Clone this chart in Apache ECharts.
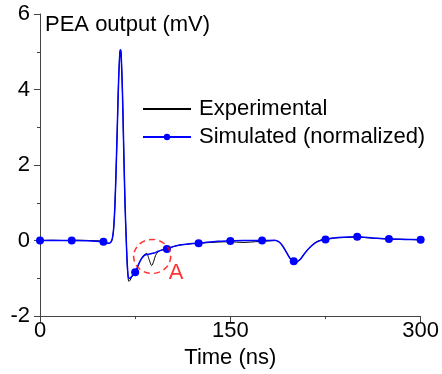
<!DOCTYPE html>
<html>
<head>
<meta charset="utf-8">
<script src="https://cdn.jsdelivr.net/npm/echarts@6/dist/echarts.min.js"></script>
<style>
  html, body { margin: 0; padding: 0; background: #fff; }
  #chart { width: 442px; height: 374px; }
</style>
</head>
<body>
<div id="chart"></div>
<script>
// experimental trace (ns, mV)
var expTime = [0, 10, 20, 30, 40, 48, 52, 54.5, 56, 57, 58, 59, 60, 61, 62, 63, 63.5, 64, 65, 66, 67, 68, 69, 70, 71, 72, 74, 76, 78, 80, 82, 84, 86, 88, 89.5, 91, 93, 96, 100, 105, 110, 115, 120, 125, 130, 140, 150, 160, 170, 180, 186, 189, 192, 195, 198, 200, 202, 205, 209, 213, 217, 221, 225, 232, 240, 250, 260, 270, 280, 290, 300]
var expValue = [0, 0.01, 0, 0.01, 0, -0.01, -0.06, -0.08, -0.04, 0.05, 0.3, 0.9, 1.9, 3.1, 4.3, 5.0, 5.05, 4.9, 3.9, 2.4, 1.0, 0.0, -0.8, -1.08, -1.05, -0.98, -0.88, -0.78, -0.62, -0.48, -0.38, -0.34, -0.5, -0.66, -0.56, -0.4, -0.3, -0.25, -0.21, -0.16, -0.12, -0.1, -0.08, -0.07, -0.06, -0.04, -0.03, -0.05, -0.03, -0.01, 0.0, -0.05, -0.18, -0.35, -0.52, -0.58, -0.58, -0.5, -0.32, -0.17, -0.05, 0.01, 0.04, 0.07, 0.08, 0.09, 0.07, 0.05, 0.04, 0.03, 0.02]

// simulated (normalized) trace, markers every 25 ns
var simTime = [0, 25, 50, 52, 54.5, 56, 57, 58, 59, 60, 61, 62, 63, 63.5, 64, 65, 66, 67, 68, 69, 70, 71, 72, 75, 78, 80, 82, 84, 86, 88, 90, 92, 95, 100, 105, 110, 115, 120, 125, 130, 140, 150, 160, 175, 185, 188, 191, 194, 197, 200, 202, 205, 209, 213, 217, 221, 225, 235, 250, 262, 275, 288, 300]
var simValue = [0, 0, -0.03, -0.06, -0.07, -0.03, 0.05, 0.3, 0.9, 1.9, 3.1, 4.3, 5.0, 5.05, 4.9, 3.9, 2.4, 1.0, 0.0, -0.75, -1.0, -1.0, -0.96, -0.84, -0.6, -0.48, -0.4, -0.37, -0.36, -0.34, -0.33, -0.3, -0.26, -0.22, -0.16, -0.12, -0.1, -0.08, -0.07, -0.05, -0.02, -0.01, 0, 0, 0.01, -0.03, -0.13, -0.3, -0.47, -0.55, -0.56, -0.5, -0.32, -0.17, -0.06, 0.0, 0.03, 0.08, 0.1, 0.07, 0.04, 0.03, 0.02]
var markerStep = 25

// region "A"
var circleAt = [88.4, -0.42]
var circleLabel = 'A'

var xTicks = [0, 150, 300]
var yTicks = [-2, 0, 2, 4, 6]

var font = 'Liberation Sans, Arial, sans-serif'

var expData = expTime.map(function (t, i) { return [t, expValue[i]] })
var simData = simTime.map(function (t, i) {
  return { value: [t, simValue[i]], symbol: t % markerStep === 0 ? 'circle' : 'none' }
})

var chart = echarts.init(document.getElementById('chart'))
chart.setOption({
  animation: false,
  backgroundColor: '#fff',
  grid: { left: 40, right: 20, top: 14, bottom: 53, containLabel: false },
  legend: {
    orient: 'vertical',
    left: 142,
    top: 98,
    padding: 0,
    itemWidth: 48,
    itemHeight: 8,
    itemGap: 6,
    textStyle: { fontFamily: font, fontSize: 22, color: '#000', lineHeight: 22, padding: [0, 0, 0, 3] },
    data: [
      { name: 'Experimental', itemStyle: { opacity: 0 } },
      { name: 'Simulated (normalized)' }
    ]
  },
  graphic: [{
    type: 'text',
    left: 45,
    top: 14,
    style: { text: 'PEA output (mV)', fontFamily: font, fontSize: 22, fill: '#000' }
  }],
  xAxis: {
    type: 'value',
    min: xTicks[0],
    max: xTicks[xTicks.length - 1],
    interval: xTicks[1] - xTicks[0],
    name: 'Time (ns)',
    nameLocation: 'middle',
    nameGap: 24,
    nameTextStyle: { fontFamily: font, fontSize: 22, color: '#000' },
    axisLine: { onZero: false, lineStyle: { color: '#444', width: 1 } },
    axisTick: { length: 6, lineStyle: { color: '#444' } },
    minorTick: { show: true, splitNumber: 2, length: 3, lineStyle: { color: '#444' } },
    axisLabel: { fontFamily: font, fontSize: 22, color: '#000', margin: 4 },
    splitLine: { show: false }
  },
  yAxis: {
    type: 'value',
    min: yTicks[0],
    max: yTicks[yTicks.length - 1],
    interval: yTicks[1] - yTicks[0],
    axisLine: { show: true, onZero: false, lineStyle: { color: '#444', width: 1 } },
    axisTick: { show: true, length: 6, lineStyle: { color: '#444' } },
    minorTick: { show: true, splitNumber: 2, length: 3, lineStyle: { color: '#444' } },
    axisLabel: { fontFamily: font, fontSize: 22, color: '#000', margin: 10 },
    splitLine: { show: false }
  },
  series: [
    {
      name: 'Experimental',
      type: 'line',
      data: expData,
      symbol: 'none',
      smooth: 0.3,
      lineStyle: { color: '#000', width: 1 },
      itemStyle: { color: '#000' }
    },
    {
      name: 'Simulated (normalized)',
      type: 'line',
      data: simData,
      symbol: 'circle',
      symbolSize: 8,
      showAllSymbol: true,
      smooth: 0.3,
      lineStyle: { color: '#0000ff', width: 1.5 },
      itemStyle: { color: '#0000ff' }
    },
    {
      type: 'scatter',
      data: [circleAt],
      symbol: 'circle',
      symbolSize: [37, 34],
      silent: true,
      itemStyle: { color: 'rgba(0,0,0,0)', borderColor: '#ff0000', borderWidth: 1.5, borderType: [6, 4] },
      label: {
        show: true,
        formatter: circleLabel,
        position: 'inside',
        offset: [24, 17],
        fontFamily: font,
        fontSize: 22,
        color: '#ff0000'
      },
      z: 5
    }
  ]
})
</script>
</body>
</html>
